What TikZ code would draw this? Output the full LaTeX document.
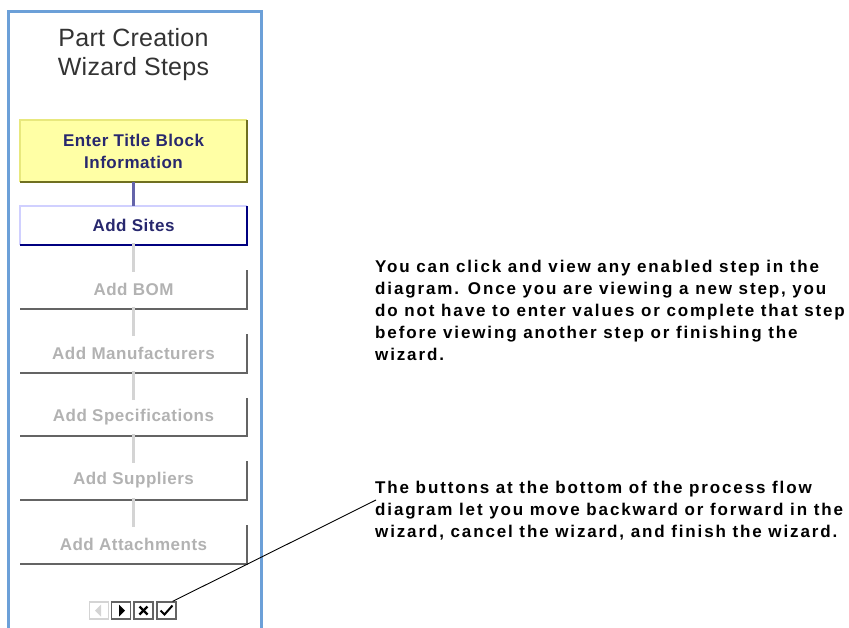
\documentclass[tikz,border=0pt]{standalone}
\usepackage{fontspec}
\setmainfont{Liberation Sans}
\newfontfamily\headfamily[LetterSpace=1]{Liberation Sans}
\newfontfamily\stepfamily[LetterSpace=3]{Liberation Sans}
\newfontfamily\notefamily[LetterSpace=11]{Liberation Sans}
\usepackage{tikz}
\usetikzlibrary{positioning}

\definecolor{panelblue}{RGB}{108,160,216}
\definecolor{titlegrey}{RGB}{51,51,51}
\definecolor{stepyellow}{RGB}{255,255,165}
\definecolor{yellowlight}{RGB}{232,232,125}
\definecolor{yellowdark}{RGB}{112,112,32}
\definecolor{navytext}{RGB}{40,40,110}
\definecolor{sitelight}{RGB}{208,208,255}
\definecolor{sitedark}{RGB}{0,0,128}
\definecolor{linkpurple}{RGB}{100,100,170}
\definecolor{offtext}{RGB}{178,178,178}
\definecolor{offedge}{RGB}{100,100,100}
\definecolor{linkgrey}{RGB}{212,212,212}

\tikzset{
  stepbox/.style={minimum width=227pt, minimum height=38pt, inner sep=0pt,
    align=center, font=\stepfamily\bfseries\fontsize{17}{22}\selectfont},
  btn/.style={draw=offedge, line width=1.2pt, minimum width=19pt, minimum height=17pt, inner sep=0pt},
  note/.style={anchor=north west, inner sep=0pt, align=left,
    font=\notefamily\bfseries\fontsize{17}{22}\selectfont}
}

\begin{document}
\begin{tikzpicture}[x=1pt, y=-1pt]
		\useasboundingbox (0,0) rectangle (849,628);
		% wizard panel
		\draw[panelblue, line width=3pt] (8,628) -- (8,12) -- (261,12) -- (261,628);
		\node[align=center, text=titlegrey, font=\headfamily\fontsize{25}{29}\selectfont] (head) at (133.5,55) {Part Creation\\Wizard Steps};

		% current step and the first open step
		\node[stepbox, fill=stepyellow, text=navytext, minimum height=62pt] (title) at (133.5,151) {Enter Title Block\\Information};
		\draw[yellowlight, line width=2pt] (title.south west) |- (title.north east);
		\draw[yellowdark, line width=2pt] (title.north east) |- (title.south west);
		\node[stepbox, text=navytext, minimum height=39pt] (sites) at (133.5,225.5) {Add Sites};
		\draw[sitelight, line width=2pt] (sites.south west) |- (sites.north east);
		\draw[sitedark, line width=2pt] (sites.north east) |- (sites.south west);
		\draw[linkpurple, line width=3pt] (title.south) -- (sites.north);

		% steps not reached yet
		\foreach \name/\txt/\yc in {bom/Add BOM/289.5, mfr/Add Manufacturers/353.5,
			spec/Add Specifications/417, supp/Add Suppliers/480.5, att/Add Attachments/544.5} {
			\node[stepbox, text=offtext] (\name) at (133.5,\yc) {\txt};
			\draw[offedge, line width=2pt] (\name.north east) |- (\name.south west);
		}
		\foreach \a/\b in {sites/bom, bom/mfr, mfr/spec, spec/supp, supp/att}
			\draw[linkgrey, line width=3pt] ([yshift=2pt]\a.south) -- ([yshift=-2pt]\b.north);

		% buttons
		\node[btn, draw=linkgrey] (back) at (99,610.5) {};
		\node[btn] (next) at (121,610.5) {};
		\node[btn] (cancel) at (143.5,610.5) {};
		\node[btn] (finish) at (166.5,610.5) {};
		\fill[linkgrey] ([xshift=-4pt]back.center) -- ++(6,-6) -- ++(0,12) -- cycle;
		\fill[black] ([xshift=4pt]next.center) -- ++(-6,-6) -- ++(0,12) -- cycle;
		\draw[line width=2.2pt] ([shift={(-4,-4)}]cancel.center) -- ([shift={(4,4)}]cancel.center);
		\draw[line width=2.2pt] ([shift={(-4,4)}]cancel.center) -- ([shift={(4,-4)}]cancel.center);
		\draw[line width=2pt] ([shift={(-6,0)}]finish.center) -- ([shift={(-2,4)}]finish.center)
			-- ([shift={(6,-5)}]finish.center);

		% notes
		\node[note] (hint) at (375,260) {You can click and view any enabled step in the\\
			diagram. Once you are viewing a new step, you\\
			do not have to enter values or complete that step\\
			before viewing another step or finishing the\\
			wizard.};
		\node[note] (btnhint) at (375,481) {The buttons at the bottom of the process flow\\
			diagram let you move backward or forward in the\\
			wizard, cancel the wizard, and finish the wizard.};
		\coordinate (leadend) at (376,500);
		\draw[line width=0.9pt] ([xshift=-4pt]finish.north east) -- (leadend);
	\end{tikzpicture}
\end{document}
